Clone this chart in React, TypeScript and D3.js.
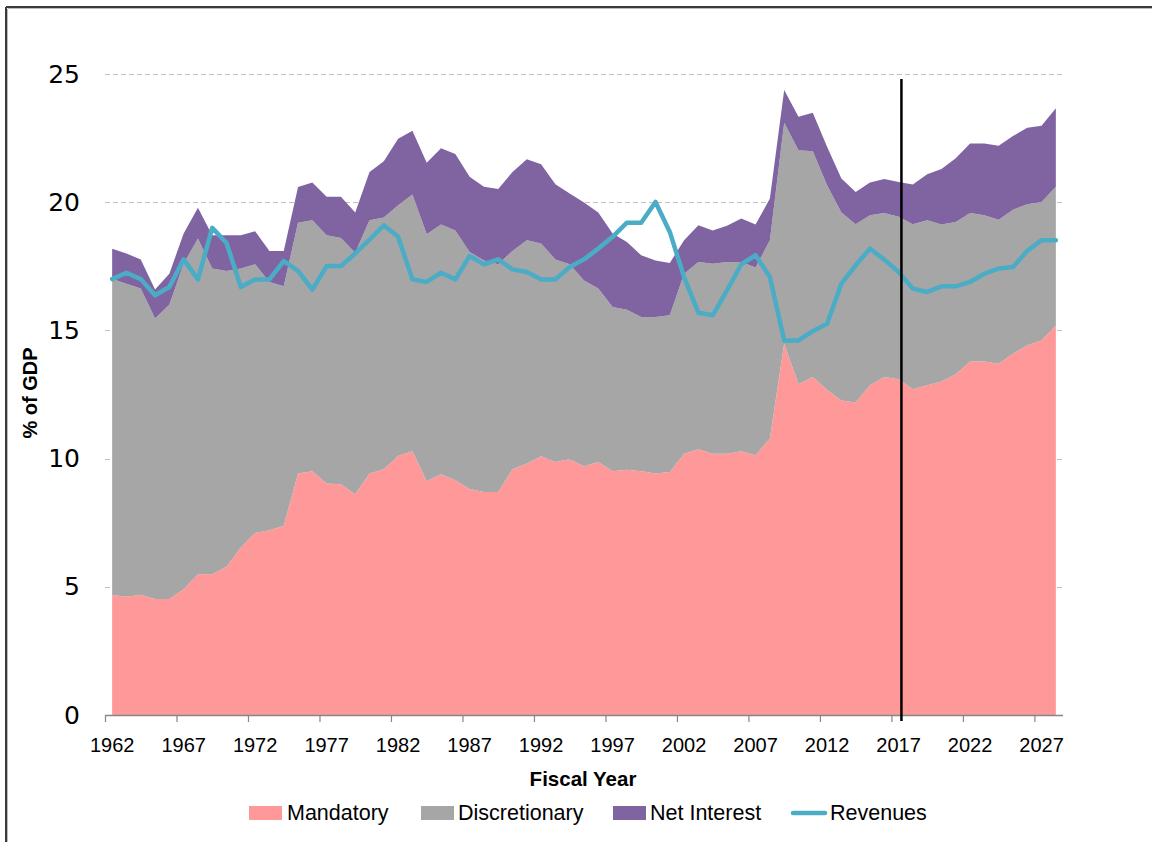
import React from "react";
import * as d3 from "d3";

const years: number[] = d3.range(1962, 2029);

const mandatory: number[] = [
  4.68, 4.61, 4.69, 4.52, 4.52, 4.9, 5.49, 5.49, 5.78, 6.53,
  7.1, 7.21, 7.38, 9.42, 9.51, 9.03, 9.0, 8.61, 9.42, 9.58,
  10.1, 10.29, 9.12, 9.39, 9.16, 8.81, 8.7, 8.7, 9.58, 9.81,
  10.09, 9.87, 9.97, 9.7, 9.87, 9.51, 9.57, 9.51, 9.42, 9.48,
  10.19, 10.36, 10.19, 10.19, 10.29, 10.13, 10.78, 14.48, 12.9, 13.18,
  12.69, 12.27, 12.19, 12.86, 13.18, 13.09, 12.7, 12.86, 13.01, 13.29,
  13.79, 13.79, 13.7, 14.09, 14.42, 14.61, 15.19,
];

const discretionary: number[] = [
  12.32, 12.21, 11.94, 10.94, 11.48, 12.7, 13.09, 11.92, 11.54, 10.88,
  10.48, 9.68, 9.34, 9.78, 9.79, 9.68, 9.6, 9.42, 9.88, 9.82,
  9.78, 10.01, 9.63, 9.74, 9.74, 9.25, 9.03, 8.88, 8.52, 8.71,
  8.3, 7.9, 7.61, 7.25, 6.76, 6.4, 6.24, 6.01, 6.1, 6.11,
  7.02, 7.31, 7.41, 7.48, 7.38, 7.32, 7.74, 8.62, 9.13, 8.81,
  7.97, 7.33, 6.95, 6.63, 6.4, 6.34, 6.44, 6.44, 6.12, 5.94,
  5.79, 5.7, 5.62, 5.62, 5.5, 5.4, 5.41,
];

const netInterest: number[] = [
  1.18, 1.18, 1.14, 1.14, 1.21, 1.18, 1.2, 1.3, 1.39, 1.3,
  1.29, 1.21, 1.38, 1.39, 1.47, 1.5, 1.61, 1.57, 1.88, 2.2,
  2.59, 2.49, 2.79, 2.97, 2.98, 2.93, 2.87, 2.93, 3.08, 3.16,
  3.09, 2.93, 2.76, 3.04, 2.97, 2.87, 2.64, 2.41, 2.21, 2.04,
  1.31, 1.43, 1.3, 1.41, 1.69, 1.68, 1.62, 1.28, 1.3, 1.5,
  1.5, 1.32, 1.26, 1.28, 1.32, 1.36, 1.55, 1.79, 2.16, 2.48,
  2.71, 2.8, 2.88, 2.87, 2.98, 2.97, 3.06,
];

const revenues: number[] = [
  17.0, 17.25, 17.0, 16.37, 16.69, 17.77, 16.99, 19.0, 18.41, 16.69,
  16.99, 16.99, 17.7, 17.32, 16.59, 17.51, 17.51, 18.0, 18.54, 19.1,
  18.65, 16.99, 16.89, 17.25, 16.99, 17.9, 17.58, 17.77, 17.38, 17.28,
  16.99, 16.99, 17.47, 17.77, 18.19, 18.65, 19.2, 19.2, 20.01, 18.84,
  17.08, 15.69, 15.59, 16.56, 17.58, 17.93, 17.08, 14.61, 14.61, 14.97,
  15.26, 16.82, 17.54, 18.19, 17.76, 17.28, 16.63, 16.5, 16.72, 16.72,
  16.89, 17.21, 17.41, 17.47, 18.1, 18.52, 18.52,
];

const yTicks: number[] = [0, 5, 10, 15, 20, 25];
const xLabelYears: number[] = d3.range(1962, 2028, 5);
const seriesNames: string[] = ["Mandatory", "Discretionary", "Net Interest", "Revenues"];
const projectionStartYear = 2017;

const COLORS: Record<string, string> = {
  Mandatory: "#FF9999",
  Discretionary: "#A6A6A6",
  "Net Interest": "#8064A2",
  Revenues: "#4BACC6",
};

const W = 1152;
const H = 842;
const plot = { left: 105, right: 1063, top: 74, bottom: 715 };

export default function App() {
  const x = d3
    .scaleBand<number>()
    .domain(years)
    .range([plot.left, plot.right])
    .paddingInner(0)
    .paddingOuter(0);
  const bw = x.bandwidth();
  const cx = (yr: number) => (x(yr) as number) + bw / 2;
  const y = d3.scaleLinear().domain([0, 25]).range([plot.bottom, plot.top]);

  const rows = years.map((yr, i) => ({
    year: yr,
    Mandatory: mandatory[i],
    Discretionary: discretionary[i],
    "Net Interest": netInterest[i],
  }));
  const keys = ["Mandatory", "Discretionary", "Net Interest"];
  const stacked = d3.stack<any>().keys(keys)(rows);

  const area = d3
    .area<any>()
    .x((d) => cx(d.data.year))
    .y0((d) => y(d[0]))
    .y1((d) => y(d[1]));

  const line = d3
    .line<number>()
    .x((_, i) => cx(years[i]))
    .y((d) => y(d));

  const projX = cx(projectionStartYear) + bw * 0.2;

  const sans = "'Liberation Sans', Arial, sans-serif";

  const legendItems = [
    { name: seriesNames[0], sx: 249, tx: 287, type: "rect" },
    { name: seriesNames[1], sx: 421, tx: 458, type: "rect" },
    { name: seriesNames[2], sx: 613, tx: 650, type: "rect" },
    { name: seriesNames[3], sx: 791, tx: 830, type: "line" },
  ];
  const legendY = 813;

  return (
    <svg
      width={W}
      height={H}
      style={{ position: "absolute", left: 0, top: 0, background: "#fff" }}
    >
      <rect x={0} y={0} width={W} height={H} fill="#fff" />
      {/* frame */}
      <line x1={6} y1={7} x2={W + 5} y2={7} stroke="#3a3a3a" strokeWidth={2} />
      <line x1={6} y1={7} x2={6} y2={H + 5} stroke="#3a3a3a" strokeWidth={2} />
      <line x1={8} y1={8.5} x2={W + 5} y2={8.5} stroke="#bbb" strokeWidth={1} />
      <line x1={7.5} y1={9} x2={7.5} y2={H + 5} stroke="#bbb" strokeWidth={1} />

      {/* gridlines */}
      {yTicks
        .filter((t) => t > 0)
        .map((t) => (
          <line
            key={"g" + t}
            x1={plot.left}
            x2={plot.right}
            y1={Math.round(y(t)) + 0.5}
            y2={Math.round(y(t)) + 0.5}
            stroke="#BFBFBF"
            strokeWidth={1}
            strokeDasharray="5,3"
          />
        ))}

      {/* areas */}
      {stacked.map((s) => (
        <path key={s.key} d={area(s) as string} fill={COLORS[s.key]} />
      ))}

      {/* revenue line */}
      <path
        d={line(revenues) as string}
        fill="none"
        stroke={COLORS.Revenues}
        strokeWidth={4.5}
        strokeLinejoin="round"
        strokeLinecap="round"
      />

      {/* x axis */}
      <line
        x1={plot.left}
        x2={plot.right}
        y1={plot.bottom + 0.5}
        y2={plot.bottom + 0.5}
        stroke="#868686"
        strokeWidth={1.5}
      />
      {xLabelYears.map((yr) => (
        <g key={"xt" + yr}>
          <line
            x1={(x(yr) as number) + 0.5}
            x2={(x(yr) as number) + 0.5}
            y1={plot.bottom}
            y2={plot.bottom + 7}
            stroke="#868686"
            strokeWidth={1.2}
          />
          <text
            x={cx(yr)}
            y={745}
            textAnchor="middle"
            dominantBaseline="central"
            fontFamily={sans}
            fontSize={20}
            fill="#000"
          >
            {yr}
          </text>
        </g>
      ))}

      {/* y labels */}
      {yTicks.map((t) => (
        <text
          key={"yl" + t}
          x={80}
          y={y(t)}
          textAnchor="end"
          dominantBaseline="central"
          fontFamily="'DejaVu Sans', sans-serif"
          fontSize={25}
          fill="#000"
        >
          {t}
        </text>
      ))}

      {/* projection marker */}
      <line
        x1={projX}
        x2={projX}
        y1={79}
        y2={721}
        stroke="#000"
        strokeWidth={2.5}
      />

      {/* axis titles */}
      <text
        x={583}
        y={778}
        textAnchor="middle"
        dominantBaseline="central"
        fontFamily={sans}
        fontWeight="bold"
        fontSize={20.5}
      >
        Fiscal Year
      </text>
      <text
        transform={`translate(30,393) rotate(-90)`}
        textAnchor="middle"
        dominantBaseline="central"
        fontFamily={sans}
        fontWeight="bold"
        fontSize={20}
      >
        % of GDP
      </text>

      {/* legend */}
      {legendItems.map((it) => (
        <g key={it.name}>
          {it.type === "rect" ? (
            <rect
              x={it.sx}
              y={legendY - 7}
              width={33}
              height={14}
              fill={COLORS[it.name]}
            />
          ) : (
            <line
              x1={it.sx + 2}
              x2={it.sx + 34}
              y1={legendY}
              y2={legendY}
              stroke={COLORS[it.name]}
              strokeWidth={4.5}
              strokeLinecap="round"
            />
          )}
          <text
            x={it.tx}
            y={legendY}
            dominantBaseline="central"
            fontFamily={sans}
            fontSize={21.5}
            fill="#000"
          >
            {it.name}
          </text>
        </g>
      ))}
    </svg>
  );
}
